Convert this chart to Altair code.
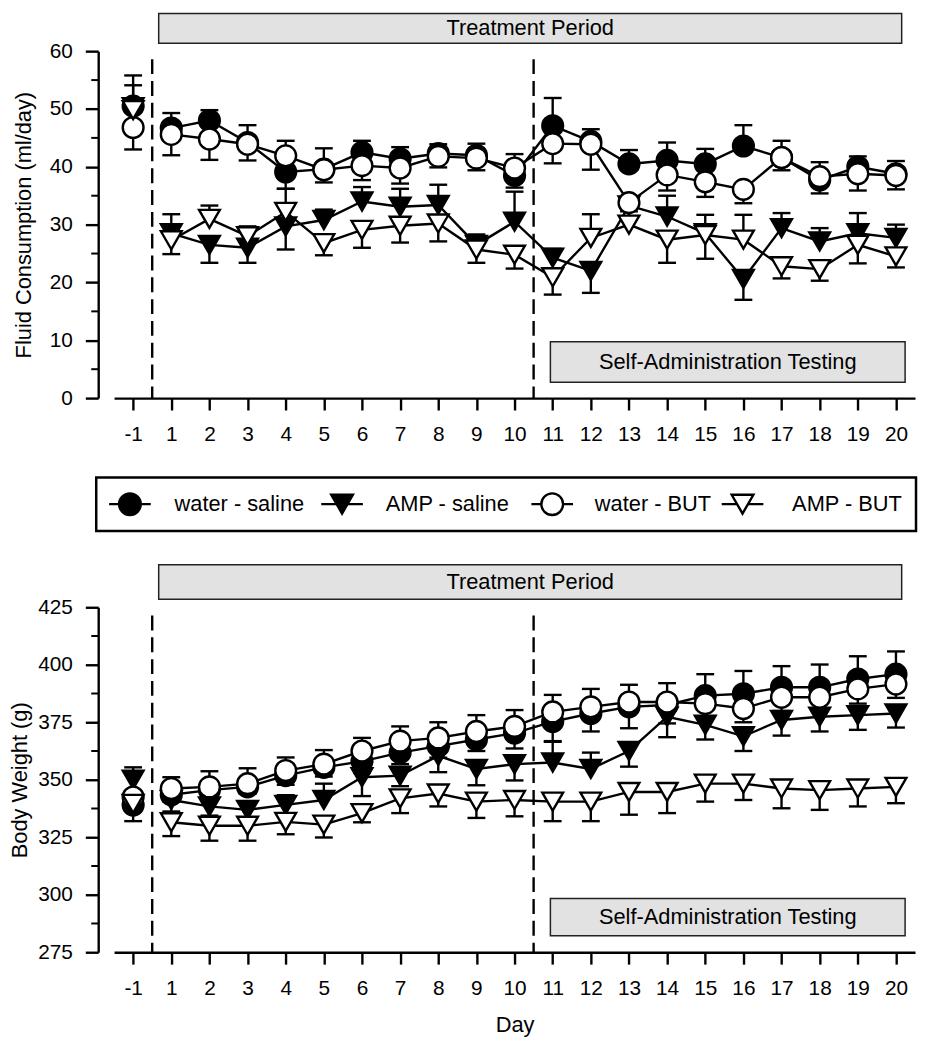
import altair as alt
import pandas as pd

# ---------------- data ----------------
days = [-1] + list(range(1, 21))
series = ["water - saline", "AMP - saline", "water - BUT", "AMP - BUT"]
shapes = ["circle", "triangle-down", "circle", "triangle-down"]
fills = ["black", "black", "white", "white"]

# Fluid consumption (ml/day): means, SEM, error-bar direction (u = up, d = down)
fluid_ws = [50.5, 46.7, 48.0, 44.2, 39.1, 39.6, 42.5, 41.4, 42.3, 42.0, 38.5,
            47.1, 44.4, 40.5, 41.1, 40.5, 43.6, 41.6, 37.7, 40.0, 38.8]
fluid_ws_sem = [3.6, 2.6, 1.8, 3.0, 2.9, 3.6, 2.0, 2.0, 1.6, 2.0, 2.1,
                4.8, 2.1, 2.4, 3.1, 2.6, 3.6, 2.9, 3.1, 1.8, 2.2]
fluid_ws_dir = list("uuuuduuuuudu" "uuuuuuuuu")

fluid_as = [50.3, 28.5, 26.5, 26.0, 29.7, 30.8, 34.0, 33.1, 33.4, 26.5, 30.5,
            24.3, 22.0, 33.3, 31.4, 28.5, 20.6, 29.4, 27.1, 28.5, 27.7]
fluid_as_sem = [5.5, 3.3, 3.1, 2.6, 4.0, 1.8, 2.5, 3.1, 3.5, 1.8, 5.2,
                1.5, 3.8, 1.0, 3.6, 3.2, 3.6, 2.6, 2.3, 3.5, 2.3]
fluid_as_dir = list("uudddu" "uuuuu" "uddu" "udu" "uuu")

fluid_wb = [46.8, 45.6, 44.8, 43.9, 41.9, 39.5, 40.2, 39.8, 41.8, 41.5, 39.8,
            44.0, 43.9, 33.8, 38.6, 37.4, 36.1, 41.6, 38.3, 38.8, 38.5]
fluid_wb_sem = [3.8, 3.6, 3.6, 2.8, 2.6, 2.2, 2.5, 2.7, 1.9, 2.1, 2.4,
                3.4, 4.4, 1.0, 2.7, 2.6, 2.4, 2.2, 2.9, 2.9, 2.4]
fluid_wb_dir = list("ddddu" "ddddd" "u" "dddddddddd")

fluid_ab = [49.8, 27.3, 31.0, 28.0, 32.2, 26.8, 29.1, 29.8, 30.2, 25.7, 24.8,
            20.9, 27.7, 30.0, 27.4, 28.2, 27.4, 22.8, 22.3, 26.5, 24.5]
fluid_ab_sem = [3.0, 2.4, 2.3, 1.7, 4.0, 2.1, 3.1, 2.9, 3.1, 2.3, 2.4,
                3.0, 4.1, 3.1, 4.0, 4.1, 4.3, 2.1, 2.0, 3.2, 1.9]
fluid_ab_dir = list("dduuu" "dddddd" "duu" "ddu" "dddd")

# Body weight (g)
bw_ws = [339.0, 343.5, 345.5, 346.9, 351.8, 355.4, 358.0, 361.8, 364.6, 367.5, 370.3,
         375.3, 378.8, 381.7, 382.5, 386.6, 387.4, 390.2, 390.2, 393.8, 395.9]
bw_ws_sem = [4.0, 3.0, 3.0, 3.0, 4.0, 4.0, 5.0, 5.0, 5.0, 5.0, 6.7,
             8.5, 7.8, 9.3, 8.0, 9.3, 9.9, 9.2, 9.9, 9.9, 9.9]
bw_ws_dir = list("u" "dddddddddd" "dddd" "uuuuuu")

bw_as = [350.0, 341.2, 338.4, 336.9, 339.1, 341.2, 351.1, 351.8, 360.4, 354.7, 356.8,
         357.5, 354.7, 362.5, 377.4, 373.9, 368.9, 376.0, 377.4, 378.1, 378.8]
bw_as_sem = [5.4, 5.0, 4.0, 4.0, 4.2, 7.1, 8.2, 4.6, 7.1, 7.1, 7.1,
             9.0, 7.1, 6.8, 8.9, 6.4, 6.4, 6.8, 6.4, 6.4, 6.1]
bw_as_dir = list("uddduu" "ddddd" "uu" "dddddddd")

bw_wb = [342.5, 346.2, 346.9, 348.3, 354.0, 356.8, 362.5, 366.8, 368.2, 371.0, 373.2,
         379.5, 381.7, 383.8, 383.8, 383.1, 381.0, 385.9, 385.9, 389.5, 391.6]
bw_wb_sem = [3.0, 4.9, 6.8, 6.7, 5.7, 6.1, 5.7, 6.4, 6.8, 7.1, 7.1,
             7.4, 7.8, 7.5, 8.2, 6.0, 6.0, 6.0, 6.0, 6.4, 6.0]
bw_wb_dir = list("d" "uuuuuuuuuu" "uuuu" "dddddd")

bw_ab = [339.5, 331.5, 330.0, 330.0, 331.7, 330.5, 335.5, 341.9, 344.0, 340.5, 341.2,
         340.5, 340.5, 344.7, 344.7, 348.3, 348.3, 346.2, 345.5, 346.2, 346.9]
bw_ab_sem = [7.5, 6.0, 6.5, 6.5, 5.4, 5.6, 4.0, 6.4, 5.6, 7.1, 7.1,
             8.5, 8.5, 9.9, 9.2, 7.8, 7.1, 8.6, 8.6, 7.8, 7.1]
bw_ab_dir = list("d" * 21)

# axis ticks
fluid_major = [0, 10, 20, 30, 40, 50, 60]
fluid_minor = [5, 15, 25, 35, 45, 55]
bw_major = [275, 300, 325, 350, 375, 400, 425]
bw_minor = [287.5, 312.5, 337.5, 362.5, 387.5, 412.5]

# ---------------- layout constants ----------------
FONT = "Liberation Sans"
W = 808
H_TOP = 350
H_BOT = 348
GAP = 211
BOX_FILL = "#e2e2e2"
LW = 2.4


def build(means, sems, dirs):
    rows = []
    for s_i, name in enumerate(series):
        for i, d in enumerate(days):
            m = means[s_i][i]
            e = sems[s_i][i]
            end = m + e if dirs[s_i][i] == "u" else m - e
            rows.append(dict(series=name, pos=i, mean=m, end=end,
                             seg=0 if d < 0 else 1,
                             shape=shapes[s_i], fill=fills[s_i], order=s_i))
    return pd.DataFrame(rows)


fluid_df = build([fluid_ws, fluid_as, fluid_wb, fluid_ab],
                 [fluid_ws_sem, fluid_as_sem, fluid_wb_sem, fluid_ab_sem],
                 [fluid_ws_dir, fluid_as_dir, fluid_wb_dir, fluid_ab_dir])
bw_df = build([bw_ws, bw_as, bw_wb, bw_ab],
              [bw_ws_sem, bw_as_sem, bw_wb_sem, bw_ab_sem],
              [bw_ws_dir, bw_as_dir, bw_wb_dir, bw_ab_dir])

label_expr = "[" + ",".join("'%s'" % d for d in days) + "][datum.value]"
dash_df = pd.DataFrame({"pos": [0.5, 10.5]})   # between -1|1 and 10|11
one = pd.DataFrame({"a": [0]})


def panel(df, ydom, major, minor, ytitle, ytitle_pad, dash_top, treat_y,
          sa_lo, sa_hi, xtitle, height):
    xscale = alt.Scale(domain=[-0.5, 20.5], nice=False, zero=False)
    yscale = alt.Scale(domain=ydom, nice=False, zero=False)
    xaxis = alt.Axis(values=list(range(21)), labelExpr=label_expr,
                     title=xtitle, tickSize=12, labelPadding=14,
                     titlePadding=16, labelOverlap=False, labelFlush=False)
    yaxis = alt.Axis(values=major, title=ytitle, offset=16, tickSize=13,
                     labelPadding=13, titlePadding=ytitle_pad,
                     labelOverlap=False, labelFlush=False)
    base = alt.Chart(df)
    lines = base.mark_line(color="black", strokeWidth=LW).encode(
        x=alt.X("pos:Q", scale=xscale, axis=xaxis),
        y=alt.Y("mean:Q", scale=yscale, axis=yaxis),
        detail=["series:N", "seg:N"])
    dashes = alt.Chart(dash_df).mark_rule(color="black", strokeWidth=2.4,
                                          strokeDash=[15, 7]).encode(
        x="pos:Q", y=alt.datum(dash_top), y2=alt.datum(ydom[0]))
    treat_rect = alt.Chart(one).mark_rect(fill=BOX_FILL, stroke="#222",
                                          strokeWidth=1.5).encode(
        x=alt.datum(0.67), x2=alt.datum(20.15),
        y=alt.value(treat_y), y2=alt.value(-8))
    treat_text = alt.Chart(one).mark_text(text="Treatment Period", fontSize=22,
                                          color="black").encode(
        x=alt.datum(10.41), y=alt.value((treat_y - 8) / 2))
    sa_rect = alt.Chart(one).mark_rect(fill=BOX_FILL, stroke="#222",
                                       strokeWidth=1.5).encode(
        x=alt.datum(10.94), x2=alt.datum(20.24),
        y=alt.datum(sa_hi), y2=alt.datum(sa_lo))
    sa_text = alt.Chart(one).mark_text(text="Self-Administration Testing",
                                       fontSize=22, color="black").encode(
        x=alt.datum(15.59), y=alt.datum((sa_lo + sa_hi) / 2))
    bars = base.mark_rule(color="black", strokeWidth=LW).encode(
        x="pos:Q", y="mean:Q", y2="end:Q")
    caps = base.mark_rule(color="black", strokeWidth=LW, xOffset=-9,
                          x2Offset=9).encode(x="pos:Q", x2="pos:Q", y="end:Q")
    pts = base.mark_point(filled=True, size=440, stroke="black", strokeWidth=LW,
                          opacity=1, fillOpacity=1).encode(
        x="pos:Q", y="mean:Q",
        shape=alt.Shape("shape:N", scale=None),
        fill=alt.Fill("fill:N", scale=None),
        order=alt.Order("order:Q"))
    minor_t = alt.Chart(pd.DataFrame({"v": minor})).mark_rule(
        color="black", strokeWidth=2).encode(
        y="v:Q", x=alt.value(-16), x2=alt.value(-23))
    return alt.layer(lines, dashes, treat_rect, treat_text, sa_rect, sa_text,
                     bars, caps, pts, minor_t).properties(width=W, height=height)


top = panel(fluid_df, [0, 60], fluid_major, fluid_minor,
            "Fluid Consumption (ml/day)", 14, 58.6, -38, 2.74, 9.74, None, H_TOP)
bottom = panel(bw_df, [275, 425], bw_major, bw_minor,
               "Body Weight (g)", 6, 421.4, -43, 282.2, 298.4, "Day", H_BOT)

# ---------------- legend (own panel between the two plots) ----------------
leg_sym_px = [16, 230, 442, 634]
leg_txt_px = [61, 274, 485, 684]
LEG_Y = 107
legend_df = pd.DataFrame({
    "name": series, "shape": shapes, "fill": fills,
    "sym": leg_sym_px, "txt": leg_txt_px,
    "l1": [p - 21 for p in leg_sym_px], "l2": [p + 21 for p in leg_sym_px],
})
lbase = alt.Chart(legend_df)
leg_box = alt.Chart(one).mark_rect(fill="white", stroke="black",
                                   strokeWidth=2.5).encode(
    x=alt.value(-18), x2=alt.value(809), y=alt.value(80), y2=alt.value(134))
leg_lines = lbase.mark_rule(color="black", strokeWidth=LW).encode(
    x=alt.X("l1:Q", scale=None, axis=None), x2="l2:Q", y=alt.value(LEG_Y))
leg_pts = lbase.mark_point(filled=True, size=480, stroke="black", strokeWidth=LW,
                           opacity=1, fillOpacity=1).encode(
    x=alt.X("sym:Q", scale=None, axis=None), y=alt.value(LEG_Y),
    shape=alt.Shape("shape:N", scale=None), fill=alt.Fill("fill:N", scale=None))
leg_txt = lbase.mark_text(align="left", baseline="middle", fontSize=22,
                          color="black").encode(
    x=alt.X("txt:Q", scale=None, axis=None), y=alt.value(LEG_Y), text="name:N")
legend = alt.layer(leg_box, leg_lines, leg_pts, leg_txt).properties(
    width=W, height=GAP)

chart = alt.vconcat(top, legend, bottom, spacing=0, bounds="flush").resolve_scale(
    x="independent", y="independent"
).properties(padding=0).configure(font=FONT).configure_view(
    stroke=None
).configure_axis(
    domainColor="black", domainWidth=2.4, tickColor="black", tickWidth=2.4,
    labelColor="black", labelFontSize=21, labelFont=FONT,
    titleColor="black", titleFontSize=22, titleFont=FONT,
    titleFontWeight="normal", grid=False
)

chart.save("out.html", embed_options={"renderer": "svg", "actions": False})
